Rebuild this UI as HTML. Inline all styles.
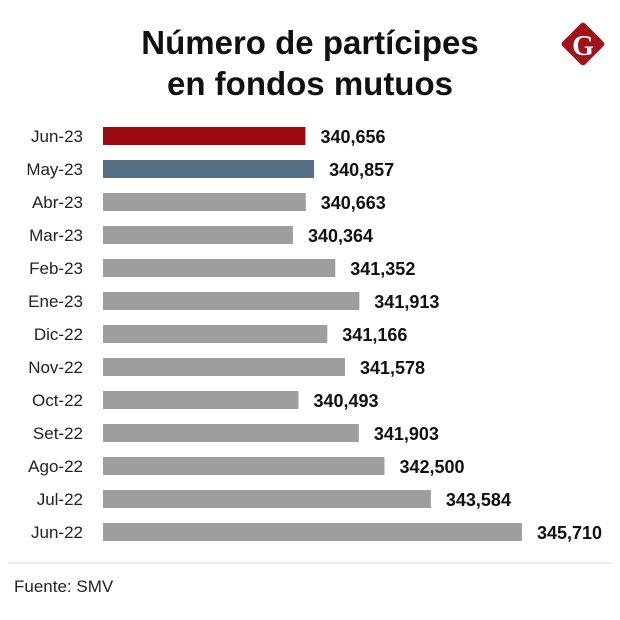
<!DOCTYPE html>
<html><head><meta charset="utf-8"><style>
body{margin:0;background:#fff;width:620px;height:615px;overflow:hidden;font-family:"Liberation Sans",sans-serif}
</style></head><body>
<svg width="620" height="615" xmlns="http://www.w3.org/2000/svg">
<text x="310" y="54" text-anchor="middle" font-size="33" font-weight="bold" fill="#111">Número de partícipes</text>
<text x="310" y="95" text-anchor="middle" font-size="33" font-weight="bold" fill="#111">en fondos mutuos</text>
<g>
<rect x="567" y="28" width="32" height="32" rx="3" fill="#a0131b" transform="rotate(45 583 44)"/>
<text x="583" y="55" text-anchor="middle" font-size="28" font-weight="bold" fill="#fff" font-family="Liberation Serif,serif">G</text>
</g>
<g id="bars"></g>
<line x1="8" y1="563" x2="612" y2="563" stroke="#ddd" stroke-width="1"/>
<text x="14" y="592" font-size="17" fill="#222">Fuente: SMV</text>
</svg>
<script>
const categories=["Jun-23","May-23","Abr-23","Mar-23","Feb-23","Ene-23","Dic-22","Nov-22","Oct-22","Set-22","Ago-22","Jul-22","Jun-22"];
const values=[340656,340857,340663,340364,341352,341913,341166,341578,340493,341903,342500,343584,345710];
const labels=["340,656","340,857","340,663","340,364","341,352","341,913","341,166","341,578","340,493","341,903","342,500","343,584","345,710"];
const domainMin=335930, scale=0.04284, x0=103;
const xs=v=>x0+(v-domainMin)*scale;
const ys=i=>127+i*33;
const g=document.getElementById('bars');
const NS="http://www.w3.org/2000/svg";
categories.forEach((c,i)=>{
  const r=document.createElementNS(NS,'rect');
  r.setAttribute('x',x0);r.setAttribute('y',ys(i));
  r.setAttribute('width',xs(values[i])-x0);r.setAttribute('height',18);
  r.setAttribute('fill',i===0?'#9b0a10':i===1?'#556e86':'#9e9e9e');
  
  
  g.appendChild(r);
  const t=document.createElementNS(NS,'text');
  t.setAttribute('x',83);t.setAttribute('y',ys(i)+15);
  t.setAttribute('text-anchor','end');t.setAttribute('font-size','17');t.setAttribute('fill','#222');
  t.textContent=c;
  
  
  g.appendChild(t);
  const v=document.createElementNS(NS,'text');
  v.setAttribute('x',xs(values[i])+15);v.setAttribute('y',ys(i)+16);
  v.setAttribute('font-size','18');v.setAttribute('font-weight','bold');v.setAttribute('fill','#111');
  v.textContent=labels[i];
  
  
  g.appendChild(v);
});
</script>
</body></html>
